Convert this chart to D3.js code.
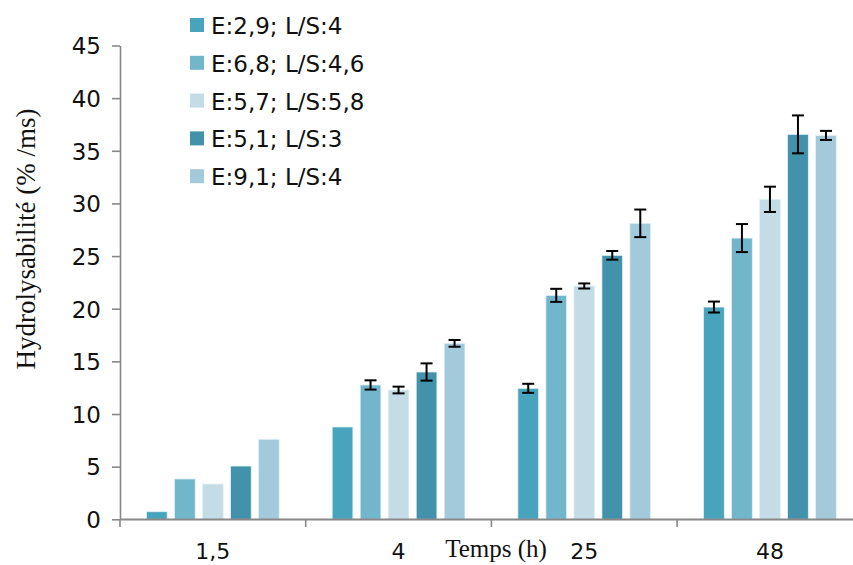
<!DOCTYPE html>
<html><head><meta charset="utf-8">
<script src="https://cdn.jsdelivr.net/npm/d3@7"></script>
<style>body{margin:0;background:#fff}</style>
</head><body>
<svg id="c" width="853" height="565"></svg>
<script>
const categories = ["1,5", "4", "25", "48"];
const seriesNames = ["E:2,9; L/S:4", "E:6,8; L/S:4,6", "E:5,7; L/S:5,8", "E:5,1; L/S:3", "E:9,1; L/S:4"];
const colors = ["#48A4BC", "#72B6CC", "#C3DCE5", "#4192AA", "#A2CADA"];
const s1 = [0.72, 8.77, 12.44, 20.16];
const s2 = [3.83, 12.76, 21.27, 26.71];
const s3 = [3.35, 12.28, 22.16, 30.39];
const s4 = [5.06, 13.99, 25.07, 36.56];
const s5 = [7.6, 16.71, 28.11, 36.46];
const e1 = [0, 0, 0.43, 0.52];
const e2 = [0, 0.44, 0.62, 1.33];
const e3 = [0, 0.32, 0.24, 1.2];
const e4 = [0, 0.82, 0.41, 1.8];
const e5 = [0, 0.32, 1.31, 0.43];
const yTicks = [0, 5, 10, 15, 20, 25, 30, 35, 40, 45];

const values = [s1, s2, s3, s4, s5];
const errors = [e1, e2, e3, e4, e5];

const svg = d3.select("#c");
const x0 = d3.scaleBand().domain(categories).range([120, 862.8]).padding(0);
const x1 = d3.scaleBand().domain(d3.range(5)).range([0, x0.bandwidth()]).paddingInner(0.26).paddingOuter(0.945);
const y = d3.scaleLinear().domain([0, 45]).range([519.3, 45.5]);

const sansFont = "DejaVu Sans, sans-serif";
const serifFont = "Liberation Serif, Times New Roman, serif";

// bars
const data = [];
categories.forEach((c, ci) => values.forEach((s, si) => data.push({c, si, v: s[ci], e: errors[si][ci]})));
svg.append("g").selectAll("rect").data(data).join("rect")
  .attr("x", d => x0(d.c) + x1(d.si))
  .attr("y", d => y(d.v))
  .attr("width", x1.bandwidth())
  .attr("height", d => y(0) - y(d.v))
  .attr("fill", d => colors[d.si])
  .attr("stroke", "#e4f1f5").attr("stroke-width", 0.8);

// error bars
const eg = svg.append("g").attr("stroke", "#000").attr("stroke-width", 2);
data.filter(d => d.e > 0).forEach(d => {
  const cx = x0(d.c) + x1(d.si) + x1.bandwidth() / 2;
  eg.append("line").attr("x1", cx).attr("x2", cx).attr("y1", y(d.v + d.e)).attr("y2", y(d.v - d.e));
  [d.v + d.e, d.v - d.e].forEach(v => eg.append("line").attr("x1", cx - 6).attr("x2", cx + 6).attr("y1", y(v)).attr("y2", y(v)));
});

// y axis
const yAxis = svg.append("g").attr("transform", "translate(120,0)")
  .call(d3.axisLeft(y).tickValues(yTicks).tickSize(8).tickPadding(11).tickSizeOuter(0));
yAxis.select(".domain").attr("stroke", "#888").attr("stroke-width", 1.6);
yAxis.selectAll(".tick line").attr("stroke", "#888").attr("stroke-width", 1.6);
yAxis.selectAll("text").attr("font-family", sansFont).attr("font-size", 23).attr("fill", "#111").attr("dy", "0.36em");

// x axis
const xAxis = svg.append("g").attr("transform", "translate(0,519.3)")
  .call(d3.axisBottom(x0).tickSize(0).tickPadding(24).tickSizeOuter(0));
xAxis.select(".domain").attr("stroke", "#888").attr("stroke-width", 1.6);
xAxis.selectAll("text").attr("font-family", sansFont).attr("font-size", 22).attr("fill", "#111").attr("dy", "0.72em");
const xt = svg.append("g").attr("stroke", "#888").attr("stroke-width", 1.6);
categories.forEach(c => xt.append("line").attr("x1", x0(c)).attr("x2", x0(c)).attr("y1", 519.3).attr("y2", 527));
xt.append("line").attr("x1", 120).attr("x2", 853).attr("y1", 519.3).attr("y2", 519.3);

// axis titles
svg.append("text").attr("x", 496).attr("y", 557).attr("text-anchor", "middle")
  .attr("font-family", serifFont).attr("font-size", 25).attr("fill", "#111").text("Temps (h)");
svg.append("text").attr("transform", "translate(35,239) rotate(-90)").attr("text-anchor", "middle")
  .attr("font-family", serifFont).attr("font-size", 27).attr("fill", "#111").text("Hydrolysabilité (% /ms)");

// legend
const lg = svg.append("g");
seriesNames.forEach((n, i) => {
  const by = 34 + i * 37.8;
  lg.append("rect").attr("x", 190).attr("y", by - 16).attr("width", 14).attr("height", 14).attr("fill", colors[i]);
  lg.append("text").attr("x", 211).attr("y", by).attr("font-family", sansFont).attr("font-size", 23).attr("fill", "#111").text(n);
});
</script>
</body></html>
